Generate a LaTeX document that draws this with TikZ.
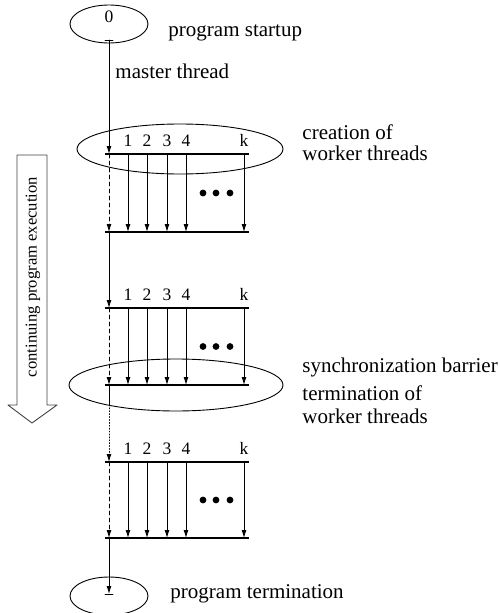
\documentclass[tikz,border=0pt]{standalone}
\usepackage{fontspec}
\setmainfont{Liberation Serif}
\usetikzlibrary{arrows.meta,shapes.geometric}
\tikzstyle{every path}=[line width=0.9pt,line cap=round,line join=round]
\tikzstyle{lbl}=[font=\fontsize{21}{24}\selectfont,anchor=base west,inner sep=0pt]
\tikzstyle{num}=[font=\fontsize{17.5}{20}\selectfont,anchor=base,inner sep=0pt]
\tikzstyle{region}=[draw,ellipse,inner sep=0pt]
\tikzstyle{bar}=[line width=2.2pt,line cap=butt]
\tikzstyle{thr}=[-{Latex[length=8pt,width=5pt]}]

\begin{document}
\begin{tikzpicture}[x=1pt,y=-1pt]
\useasboundingbox (0,0) rectangle (500,613);

% start and end of the program
\node[region,minimum width=78pt,minimum height=38pt] (start) at (109,24) {};
\node[num] (zero) at (109,23) {0};
\node[lbl] (startup) at (168,36) {program startup};
\node[lbl] (master) at (115,78) {master thread};
\node[region,minimum width=78pt,minimum height=38pt] (stop) at (109,596) {};
\node[lbl] (termin) at (170,598) {program termination};

% the three parallel regions
\foreach \g/\t/\b in {a/154/232,b/308/385,c/462/538}{
  \coordinate (\g tl) at (105,\t);
  \coordinate (\g tr) at (249,\t);
  \coordinate (\g bl) at (105,\b);
  \coordinate (\g br) at (249,\b);
  \coordinate (\g mt) at (109,\t);
  \coordinate (\g mb) at (109,\b);
  \draw[bar] (\g tl) -- (\g tr);
  \draw[bar] (\g bl) -- (\g br);
  \draw[thr,dashed,dash pattern=on 4pt off 3pt] (\g mt) -- (\g mb);
  \foreach \x/\n in {128/1,147/2,167/3,186/4,244/k}{
    \coordinate (\g w\n) at (\x,\t);
    \coordinate (\g v\n) at (\x,\b);
    \node[num] (\g n\n) at (\x,\t-8) {\n};
    \draw[thr] (\g w\n) -- (\g v\n);
  }
  \foreach \x in {203,216,230}
    \fill (\x,{(\t+\b)/2}) circle (3.4pt);
}

% master thread
\coordinate (m0) at (109,40);
\coordinate (m1) at (109,594);
\coordinate (m2) at (109,405);
\draw (105,40) -- (113,40);
\draw[thr] (m0) -- (amt);
\draw[thr] (amb) -- (bmt);
\draw (bmb) -- (m2);
\draw[thr,dotted] (m2) -- (cmt);
\draw[thr] (cmb) -- (m1);
\draw (105,594) -- (113,594);

% creation and barrier
\node[region,minimum width=206pt,minimum height=50pt] (create) at (180,149) {};
\node[lbl] (cr1) at (302,139) {creation of};
\node[lbl] (cr2) at (302,160) {worker threads};
\node[region,minimum width=214pt,minimum height=52pt] (sync) at (176,385) {};
\node[lbl] (sy) at (302,372) {synchronization barrier};
\node[lbl] (te1) at (302,400) {termination of};
\node[lbl] (te2) at (302,423) {worker threads};

% continuing execution
\draw[draw=black!75] (17,155) -- (47,155) -- (47,405) -- (57,405) -- (32,423) -- (8,405) -- (17,405) -- cycle;
\node[rotate=90,font=\fontsize{16.6}{18}\selectfont,inner sep=0pt] (cont) at (33,277) {continuing program execution};
\end{tikzpicture}
\end{document}
